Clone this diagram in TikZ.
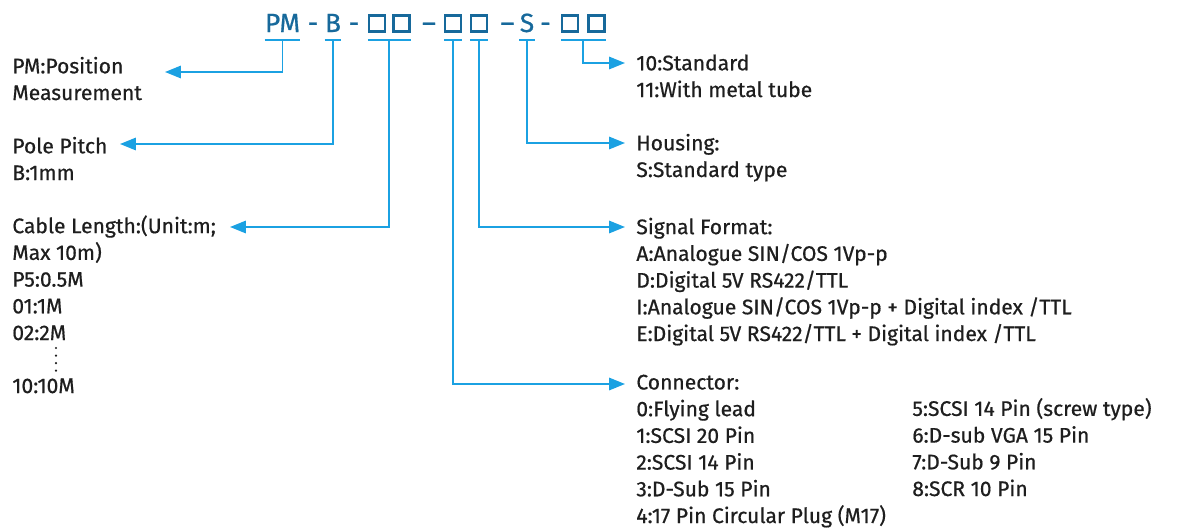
\documentclass[tikz,border=0pt]{standalone}
\usepackage{fontspec}
\setmainfont{Fira Sans}
\usetikzlibrary{positioning, arrows.meta, calc}
\definecolor{pmblue}{HTML}{1BA1E2}
\definecolor{pmdark}{HTML}{17699B}
\definecolor{pmtext}{HTML}{1E1E1E}

\begin{document}
\begin{tikzpicture}[x=0.02cm, y=-0.02cm,
    code/.style={text=pmdark, font=\fontsize{15}{18}\selectfont\addfontfeatures{FakeBold=0.7},
                 inner sep=0pt, anchor=base},
    cbox/.style={draw=pmdark, line width=1.3pt, minimum size=0.32cm, inner sep=0pt},
    lead/.style={draw=pmblue, line width=1.1pt},
    conn/.style={lead, -{Triangle[length=9pt, width=7pt]}},
    desc/.style={text=pmtext, font=\fontsize{12}{15.2}\selectfont\addfontfeatures{FakeBold=0.6},
                 inner sep=0pt, anchor=base west, align=left}]
  \useasboundingbox (0,0) rectangle (1179,528);

  % model code
  \node[code] (pm) at (282.5,32) {PM};
  \node[code] (d1) at (313,32) {-};
  \node[code] (b) at (333,32) {B};
  \node[code] (d2) at (354,32) {-};
  \node[cbox] (len1) at (377,23.5) {};
  \node[cbox] (len2) at (401.5,23.5) {};
  \node[code] (d3) at (429,32) {–};
  \node[cbox] (con) at (453,23.5) {};
  \node[cbox] (sig) at (479,23.5) {};
  \node[code] (d4) at (507.5,32) {–};
  \node[code] (s) at (527,32) {S};
  \node[code] (d5) at (545.5,32) {-};
  \node[cbox] (opt1) at (570,23.5) {};
  \node[cbox] (opt2) at (596.5,23.5) {};

  \coordinate (ul) at (0,40);
  \coordinate (lenmid) at ($(len1)!.5!(len2)$);
  \coordinate (optmid) at ($(opt1)!.5!(opt2)$);

  % underlines
  \draw[lead] (pm.west |- ul) -- (pm.east |- ul);
  \draw[lead] (b.west |- ul) -- (b.east |- ul);
  \draw[lead] (len1.west |- ul) -- (len2.east |- ul);
  \draw[lead] (con.west |- ul) -- (con.east |- ul);
  \draw[lead] (sig.west |- ul) -- (sig.east |- ul);
  \draw[lead] (s.west |- ul) -- (s.east |- ul);
  \draw[lead] (opt1.west |- ul) -- (opt2.east |- ul);

  % left descriptions (placed at the baseline of their last line)
  \node[desc] (pmtxt) at (12,100) {PM:Position\\Measurement};
  \node[desc] (poletxt) at (12,180) {Pole Pitch\\B:1mm};
  \node[desc] (cabletxt) at (12,340)
       {Cable Length:(Unit:m;\\Max 10m)\\P5:0.5M\\01:1M\\02:2M};
  \node[desc] (c10) at (12,393) {10:10M};
  \draw[pmtext, line width=1.4pt, line cap=round, dash pattern=on 0pt off 4.3pt]
       (56,348) -- (56,372);

  % right descriptions
  \node[desc] (opttxt) at (636,97) {10:Standard\\11:With metal tube};
  \node[desc] (houstxt) at (636,177) {Housing:\\S:Standard type};
  \node[desc] (sigtxt) at (636,341) {Signal Format:\\A:Analogue SIN/COS 1Vp-p\\D:Digital 5V RS422/TTL\\I:Analogue SIN/COS 1Vp-p + Digital index /TTL\\E:Digital 5V RS422/TTL + Digital index /TTL};
  \node[desc] (contxt) at (636,523) {Connector:\\0:Flying lead\\1:SCSI 20 Pin\\2:SCSI 14 Pin\\3:D-Sub 15 Pin\\4:17 Pin Circular Plug (M17)};
  \node[desc] (conmore) at (912,496) {5:SCSI 14 Pin (screw type)\\6:D-sub VGA 15 Pin\\7:D-Sub 9 Pin\\8:SCR 10 Pin};

  % arrow tips
  \coordinate (pmtip) at (165,72);
  \coordinate (poletip) at (120,144);
  \coordinate (cabletip) at (230,227);
  \coordinate (opttip) at (625,63);
  \coordinate (houstip) at (625,143);
  \coordinate (sigtip) at (625,227);
  \coordinate (contip) at (625,384);

  % leaders
  \draw[conn] (pm |- ul) |- (pmtip);
  \draw[conn] (b |- ul) |- (poletip);
  \draw[conn] (lenmid |- ul) |- (cabletip);
  \draw[conn] (con |- ul) |- (contip);
  \draw[conn] (sig |- ul) |- (sigtip);
  \draw[conn] (s |- ul) |- (houstip);
  \draw[conn] (optmid |- ul) |- (opttip);
\end{tikzpicture}
\end{document}
